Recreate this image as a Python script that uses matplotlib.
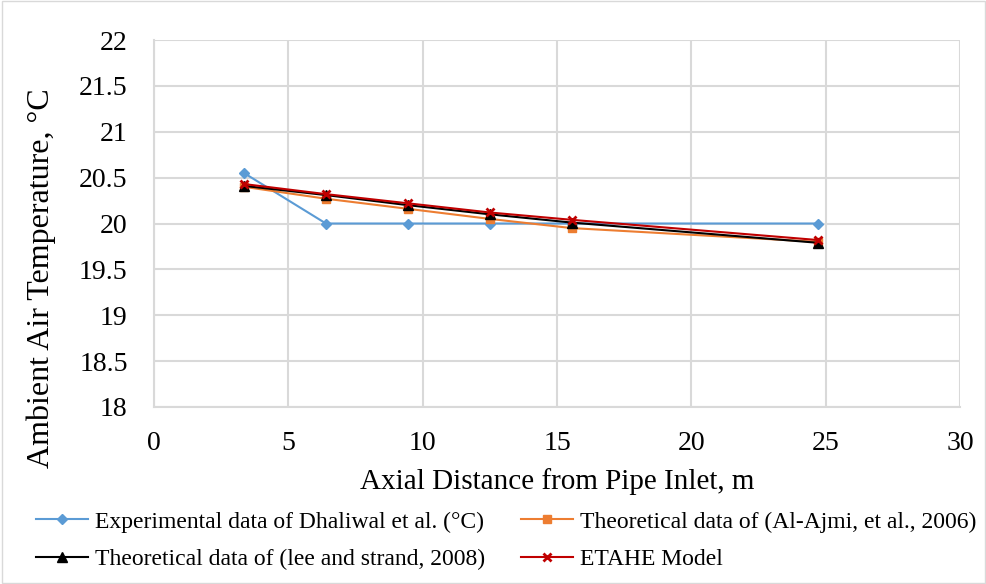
import matplotlib.pyplot as plt

# axial distance along the pipe, m
distance = [3.35, 6.4, 9.45, 12.5, 15.55, 24.7]

# ambient air temperature, deg C
experimental = [20.55, 20.0, 20.0, 20.0, 20.0, 20.0]
al_ajmi = [20.40, 20.27, 20.16, 20.05, 19.95, 19.80]
lee_strand = [20.41, 20.31, 20.20, 20.10, 20.01, 19.79]
etahe = [20.43, 20.32, 20.22, 20.12, 20.04, 19.82]

plt.rcParams['font.family'] = ['Liberation Serif', 'DejaVu Serif']

fig = plt.figure(figsize=(9.87, 5.84), dpi=100)
ax = fig.add_axes([154 / 987, 1 - 407 / 584, (960 - 154) / 987, (407 - 40) / 584])

# light border around the whole chart area
fig.patches.append(plt.Rectangle((0.002, 0.002), 0.996, 0.996, transform=fig.transFigure,
                                 fill=False, edgecolor='#d9d9d9', linewidth=1))

l_exp, = ax.plot(distance, experimental, color='#5b9bd5', marker='D', markersize=5,
                 linewidth=1.5, label='Experimental data of Dhaliwal et al. (°C)', zorder=3)
l_ajmi, = ax.plot(distance, al_ajmi, color='#ed7d31', marker='s', markersize=6,
                  linewidth=1.5, label='Theoretical data of (Al-Ajmi, et al., 2006)', zorder=4)
l_lee, = ax.plot(distance, lee_strand, color='black', marker='^', markersize=7,
                 linewidth=1.5, label='Theoretical data of (lee and strand, 2008)', zorder=5)
l_etahe, = ax.plot(distance, etahe, color='#c00000', marker='x', markersize=6,
                   markeredgewidth=2, linewidth=1.5, label='ETAHE Model', zorder=6)

ax.set_xlim(0, 30)
ax.set_ylim(18, 22)
ax.set_xticks(range(0, 31, 5))
ax.set_yticks([18, 18.5, 19, 19.5, 20, 20.5, 21, 21.5, 22])
ax.set_yticklabels(['18', '18.5', '19', '19.5', '20', '20.5', '21', '21.5', '22'])
ax.grid(True, color='#d9d9d9', linewidth=1.5)
ax.set_axisbelow(True)
for side in ['top', 'right']:
    ax.spines[side].set_visible(False)
for side in ['left', 'bottom']:
    ax.spines[side].set_color('#d9d9d9')
    ax.spines[side].set_linewidth(1.5)
ax.tick_params(axis='y', length=0, labelsize=20, pad=19)
ax.tick_params(axis='x', length=0, labelsize=20, pad=17)

ax.set_xlabel('Axial Distance from Pipe Inlet, m', fontsize=21, labelpad=9)
ax.set_ylabel('Ambient Air Temperature, °C', fontsize=23)
ax.yaxis.set_label_coords(-0.122, 0.35)

# row-wise legend order as in the original (legend fills column-first)
handles = [l_exp, l_lee, l_ajmi, l_etahe]
ax.legend(handles=handles, labels=[h.get_label() for h in handles],
          loc='upper center', bbox_to_anchor=(0.437, -0.277), ncol=2, frameon=False,
          fontsize=17, handlelength=2.2, columnspacing=1.5, labelspacing=0.68,
          handletextpad=0.3, borderaxespad=0, borderpad=0.1)

fig.savefig('out.png', dpi=100)
